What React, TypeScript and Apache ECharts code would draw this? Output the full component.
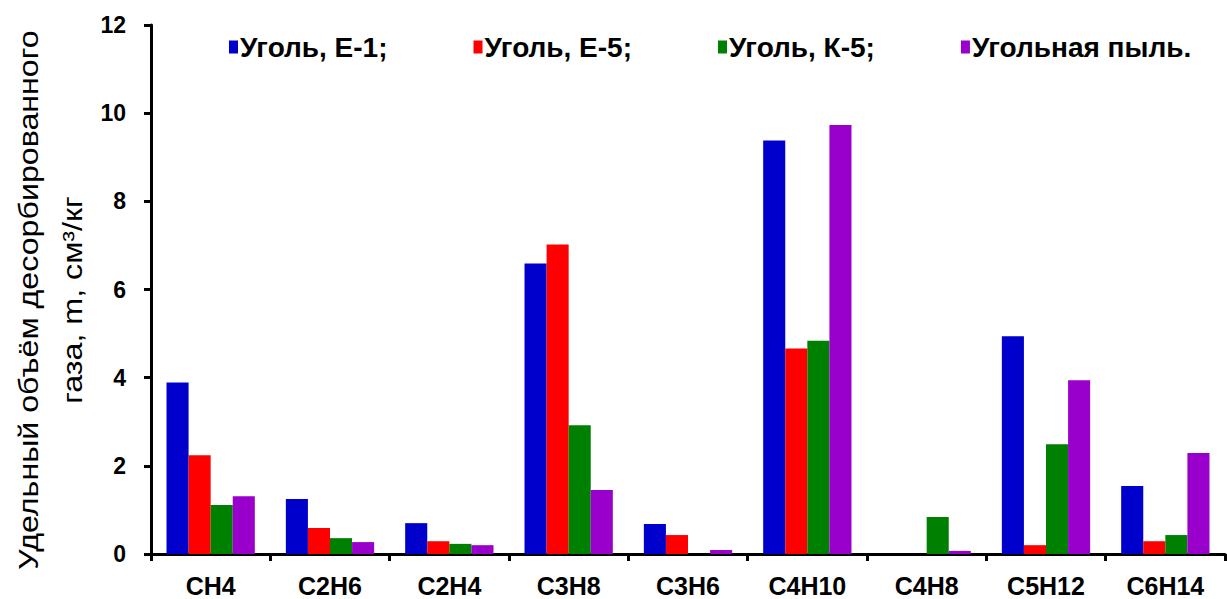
import React, { useEffect, useRef } from "react";
import * as echarts from "echarts";

const categories = ["CH4", "C2H6", "C2H4", "C3H8", "C3H6", "C4H10", "C4H8", "C5H12", "C6H14"];
const seriesNames = ["Уголь, Е-1;", "Уголь, Е-5;", "Уголь, К-5;", "Угольная пыль."];
const e1 = [3.89, 1.25, 0.7, 6.59, 0.68, 9.38, 0, 4.94, 1.54];
const e5 = [2.24, 0.59, 0.29, 7.02, 0.43, 4.66, 0, 0.2, 0.29];
const k5 = [1.11, 0.36, 0.23, 2.92, 0, 4.84, 0.84, 2.49, 0.43];
const dust = [1.31, 0.27, 0.2, 1.45, 0.09, 9.73, 0.07, 3.94, 2.29];
const colors = ["#0000CC", "#FF0000", "#008000", "#9900CC"];
const yTicks = { min: 0, max: 12, interval: 2 };
const yTitle = "Удельный объём десорбированного\nгаза, m, см³/кг";

export default function App() {
  const ref = useRef<HTMLDivElement>(null);
  useEffect(() => {
    if (!ref.current) return;
    const chart = echarts.init(ref.current, null, { renderer: "svg" });
    const font = "'Liberation Sans', Arial, sans-serif";
    const data = [e1, e5, k5, dust];
    chart.setOption({
      animation: false,
      textStyle: { fontFamily: font },
      legend: {
        left: 224,
        top: 28,
        itemWidth: 9,
        itemHeight: 13,
        itemGap: 86,
        icon: "rect",
        textStyle: { fontSize: 28, fontWeight: "bold", color: "#000", fontFamily: font, padding: [0, 0, 0, -3] },
        data: seriesNames,
      },
      grid: { left: 151, right: 2, top: 25, bottom: 45, containLabel: false, outerBoundsMode: "none" },
      graphic: [
        {
          type: "text",
          x: 50,
          y: 300,
          rotation: Math.PI / 2,
          scaleX: 1.15,
          scaleY: 1,
          style: {
            text: yTitle,
            fontSize: 28,
            lineHeight: 44,
            fontFamily: font,
            fill: "#000",
            align: "center",
            verticalAlign: "middle",
          },
        },
      ],
      xAxis: {
        type: "category",
        data: categories,
        axisLine: { lineStyle: { color: "#000", width: 3 } },
        axisTick: { show: true, length: 7, lineStyle: { color: "#000", width: 3 } },
        axisLabel: { fontSize: 25, fontWeight: "bold", color: "#000", margin: 19, fontFamily: font },
      },
      yAxis: {
        type: "value",
        min: yTicks.min,
        max: yTicks.max,
        interval: yTicks.interval,
        axisLine: { show: true, lineStyle: { color: "#000", width: 3 } },
        axisTick: { show: true, length: 7, lineStyle: { color: "#000", width: 3 } },
        axisLabel: { fontSize: 23, fontWeight: "bold", color: "#000", margin: 25, fontFamily: font },
        splitLine: { show: false },
      },
      series: data.map((d, i) => ({
        name: seriesNames[i],
        type: "bar",
        data: d,
        barGap: "0%",
        barCategoryGap: "26%",
        itemStyle: { color: colors[i] },
      })),
    });
    return () => chart.dispose();
  }, []);
  return <div ref={ref} style={{ width: 1227, height: 599, position: "absolute", left: 0, top: 0, background: "#fff" }} />;
}
